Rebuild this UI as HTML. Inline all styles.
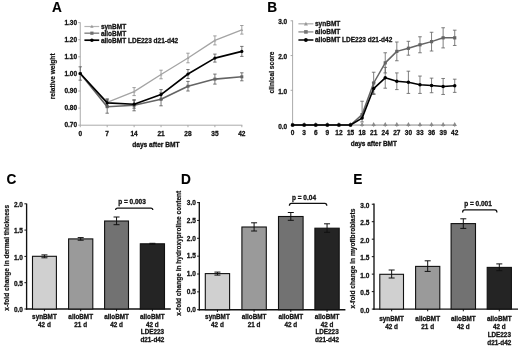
<!DOCTYPE html>
<html><head><meta charset="utf-8"><style>
html,body{margin:0;padding:0;background:#fff;}
body{width:520px;height:347px;overflow:hidden;}
svg{display:block;filter:grayscale(1) blur(0.25px);}
text{font-family:"Liberation Sans", sans-serif;font-weight:bold;fill:#111;stroke:#111;stroke-width:0.28px;}
text.yl{stroke-width:0.2px;}
text.big{stroke-width:0.15px;fill:#000;stroke:#000;}
</style></head><body>
<svg width="520" height="347" viewBox="0 0 520 347">
<rect width="520" height="347" fill="#fff"/>
<text x="0" y="0" font-size="15.0" class="big" transform="translate(52.00,11.70) scale(0.91,1)">A</text>
<text x="0" y="0" font-size="15.0" class="big" transform="translate(267.20,11.70) scale(0.91,1)">B</text>
<text x="0" y="0" font-size="15.0" class="big" transform="translate(6.60,183.50) scale(0.91,1)">C</text>
<text x="0" y="0" font-size="15.0" class="big" transform="translate(181.00,183.50) scale(0.91,1)">D</text>
<text x="0" y="0" font-size="15.0" class="big" transform="translate(353.20,183.50) scale(0.91,1)">E</text>
<line x1="80.25" y1="22.40" x2="80.25" y2="125.20" stroke="#a0a0a0" stroke-width="0.9" />
<line x1="80.25" y1="125.20" x2="242.33" y2="125.20" stroke="#a0a0a0" stroke-width="0.9" />
<line x1="78.25" y1="125.20" x2="80.25" y2="125.20" stroke="#a0a0a0" stroke-width="0.9" />
<text x="77.10" y="127.33" text-anchor="end" font-size="6.5" >0.70</text>
<line x1="78.25" y1="108.10" x2="80.25" y2="108.10" stroke="#a0a0a0" stroke-width="0.9" />
<text x="77.10" y="110.23" text-anchor="end" font-size="6.5" >0.80</text>
<line x1="78.25" y1="91.00" x2="80.25" y2="91.00" stroke="#a0a0a0" stroke-width="0.9" />
<text x="77.10" y="93.13" text-anchor="end" font-size="6.5" >0.90</text>
<line x1="78.25" y1="73.90" x2="80.25" y2="73.90" stroke="#a0a0a0" stroke-width="0.9" />
<text x="77.10" y="76.03" text-anchor="end" font-size="6.5" >1.00</text>
<line x1="78.25" y1="56.80" x2="80.25" y2="56.80" stroke="#a0a0a0" stroke-width="0.9" />
<text x="77.10" y="58.93" text-anchor="end" font-size="6.5" >1.10</text>
<line x1="78.25" y1="39.70" x2="80.25" y2="39.70" stroke="#a0a0a0" stroke-width="0.9" />
<text x="77.10" y="41.83" text-anchor="end" font-size="6.5" >1.20</text>
<line x1="78.25" y1="22.60" x2="80.25" y2="22.60" stroke="#a0a0a0" stroke-width="0.9" />
<text x="77.10" y="24.73" text-anchor="end" font-size="6.5" >1.30</text>
<line x1="80.25" y1="125.20" x2="80.25" y2="127.20" stroke="#a0a0a0" stroke-width="0.9" />
<text x="80.25" y="135.50" text-anchor="middle" font-size="6.5" >0</text>
<line x1="107.18" y1="125.20" x2="107.18" y2="127.20" stroke="#a0a0a0" stroke-width="0.9" />
<text x="107.18" y="135.50" text-anchor="middle" font-size="6.5" >7</text>
<line x1="134.11" y1="125.20" x2="134.11" y2="127.20" stroke="#a0a0a0" stroke-width="0.9" />
<text x="134.11" y="135.50" text-anchor="middle" font-size="6.5" >14</text>
<line x1="161.04" y1="125.20" x2="161.04" y2="127.20" stroke="#a0a0a0" stroke-width="0.9" />
<text x="161.04" y="135.50" text-anchor="middle" font-size="6.5" >21</text>
<line x1="187.97" y1="125.20" x2="187.97" y2="127.20" stroke="#a0a0a0" stroke-width="0.9" />
<text x="187.97" y="135.50" text-anchor="middle" font-size="6.5" >28</text>
<line x1="214.90" y1="125.20" x2="214.90" y2="127.20" stroke="#a0a0a0" stroke-width="0.9" />
<text x="214.90" y="135.50" text-anchor="middle" font-size="6.5" >35</text>
<line x1="241.83" y1="125.20" x2="241.83" y2="127.20" stroke="#a0a0a0" stroke-width="0.9" />
<text x="241.83" y="135.50" text-anchor="middle" font-size="6.5" >42</text>
<text x="155.90" y="146.70" text-anchor="middle" font-size="6.62" >days after BMT</text>
<text x="0.00" y="0.00" text-anchor="middle" font-size="6.62" class="yl" transform="translate(55.40,76.35) rotate(-90)">relative weight</text>
<line x1="107.18" y1="99.30" x2="107.18" y2="105.30" stroke="#8a8a8a" stroke-width="0.8" />
<line x1="105.48" y1="99.30" x2="108.88" y2="99.30" stroke="#8a8a8a" stroke-width="0.8" />
<line x1="105.48" y1="105.30" x2="108.88" y2="105.30" stroke="#8a8a8a" stroke-width="0.8" />
<line x1="134.11" y1="87.60" x2="134.11" y2="95.60" stroke="#8a8a8a" stroke-width="0.8" />
<line x1="132.41" y1="87.60" x2="135.81" y2="87.60" stroke="#8a8a8a" stroke-width="0.8" />
<line x1="132.41" y1="95.60" x2="135.81" y2="95.60" stroke="#8a8a8a" stroke-width="0.8" />
<line x1="161.04" y1="70.20" x2="161.04" y2="78.80" stroke="#8a8a8a" stroke-width="0.8" />
<line x1="159.34" y1="70.20" x2="162.74" y2="70.20" stroke="#8a8a8a" stroke-width="0.8" />
<line x1="159.34" y1="78.80" x2="162.74" y2="78.80" stroke="#8a8a8a" stroke-width="0.8" />
<line x1="187.97" y1="53.20" x2="187.97" y2="62.80" stroke="#8a8a8a" stroke-width="0.8" />
<line x1="186.27" y1="53.20" x2="189.67" y2="53.20" stroke="#8a8a8a" stroke-width="0.8" />
<line x1="186.27" y1="62.80" x2="189.67" y2="62.80" stroke="#8a8a8a" stroke-width="0.8" />
<line x1="214.90" y1="35.90" x2="214.90" y2="44.90" stroke="#8a8a8a" stroke-width="0.8" />
<line x1="213.20" y1="35.90" x2="216.60" y2="35.90" stroke="#8a8a8a" stroke-width="0.8" />
<line x1="213.20" y1="44.90" x2="216.60" y2="44.90" stroke="#8a8a8a" stroke-width="0.8" />
<line x1="241.83" y1="25.50" x2="241.83" y2="34.10" stroke="#8a8a8a" stroke-width="0.8" />
<line x1="240.13" y1="25.50" x2="243.53" y2="25.50" stroke="#8a8a8a" stroke-width="0.8" />
<line x1="240.13" y1="34.10" x2="243.53" y2="34.10" stroke="#8a8a8a" stroke-width="0.8" />
<path d="M80.25,73.50 L107.18,102.30 L134.11,91.60 L161.04,74.50 L187.97,58.00 L214.90,40.40 L241.83,29.80" stroke="#a4a4a4" stroke-width="1.3" fill="none" stroke-linejoin="round"/>
<path d="M80.25,72.10 L81.65,74.62 L78.85,74.62 Z" fill="#a4a4a4"/>
<path d="M107.18,100.90 L108.58,103.42 L105.78,103.42 Z" fill="#a4a4a4"/>
<path d="M134.11,90.20 L135.51,92.72 L132.71,92.72 Z" fill="#a4a4a4"/>
<path d="M161.04,73.10 L162.44,75.62 L159.64,75.62 Z" fill="#a4a4a4"/>
<path d="M187.97,56.60 L189.37,59.12 L186.57,59.12 Z" fill="#a4a4a4"/>
<path d="M214.90,39.00 L216.30,41.52 L213.50,41.52 Z" fill="#a4a4a4"/>
<path d="M241.83,28.40 L243.23,30.92 L240.43,30.92 Z" fill="#a4a4a4"/>
<line x1="107.18" y1="100.20" x2="107.18" y2="113.20" stroke="#555" stroke-width="0.8" />
<line x1="105.48" y1="100.20" x2="108.88" y2="100.20" stroke="#555" stroke-width="0.8" />
<line x1="105.48" y1="113.20" x2="108.88" y2="113.20" stroke="#555" stroke-width="0.8" />
<line x1="134.11" y1="99.80" x2="134.11" y2="110.80" stroke="#555" stroke-width="0.8" />
<line x1="132.41" y1="99.80" x2="135.81" y2="99.80" stroke="#555" stroke-width="0.8" />
<line x1="132.41" y1="110.80" x2="135.81" y2="110.80" stroke="#555" stroke-width="0.8" />
<line x1="161.04" y1="92.80" x2="161.04" y2="105.80" stroke="#555" stroke-width="0.8" />
<line x1="159.34" y1="92.80" x2="162.74" y2="92.80" stroke="#555" stroke-width="0.8" />
<line x1="159.34" y1="105.80" x2="162.74" y2="105.80" stroke="#555" stroke-width="0.8" />
<line x1="187.97" y1="81.40" x2="187.97" y2="91.00" stroke="#555" stroke-width="0.8" />
<line x1="186.27" y1="81.40" x2="189.67" y2="81.40" stroke="#555" stroke-width="0.8" />
<line x1="186.27" y1="91.00" x2="189.67" y2="91.00" stroke="#555" stroke-width="0.8" />
<line x1="214.90" y1="74.10" x2="214.90" y2="84.10" stroke="#555" stroke-width="0.8" />
<line x1="213.20" y1="74.10" x2="216.60" y2="74.10" stroke="#555" stroke-width="0.8" />
<line x1="213.20" y1="84.10" x2="216.60" y2="84.10" stroke="#555" stroke-width="0.8" />
<line x1="241.83" y1="72.80" x2="241.83" y2="80.80" stroke="#555" stroke-width="0.8" />
<line x1="240.13" y1="72.80" x2="243.53" y2="72.80" stroke="#555" stroke-width="0.8" />
<line x1="240.13" y1="80.80" x2="243.53" y2="80.80" stroke="#555" stroke-width="0.8" />
<path d="M80.25,73.50 L107.18,106.70 L134.11,105.30 L161.04,99.30 L187.97,86.20 L214.90,79.10 L241.83,76.80" stroke="#646464" stroke-width="1.6" fill="none" stroke-linejoin="round"/>
<rect x="78.75" y="72.00" width="3.0" height="3.0" fill="#646464"/>
<rect x="105.68" y="105.20" width="3.0" height="3.0" fill="#646464"/>
<rect x="132.61" y="103.80" width="3.0" height="3.0" fill="#646464"/>
<rect x="159.54" y="97.80" width="3.0" height="3.0" fill="#646464"/>
<rect x="186.47" y="84.70" width="3.0" height="3.0" fill="#646464"/>
<rect x="213.40" y="77.60" width="3.0" height="3.0" fill="#646464"/>
<rect x="240.33" y="75.30" width="3.0" height="3.0" fill="#646464"/>
<line x1="80.25" y1="66.80" x2="80.25" y2="80.20" stroke="#555" stroke-width="0.8" />
<line x1="78.55" y1="66.80" x2="81.95" y2="66.80" stroke="#555" stroke-width="0.8" />
<line x1="78.55" y1="80.20" x2="81.95" y2="80.20" stroke="#555" stroke-width="0.8" />
<line x1="107.18" y1="98.90" x2="107.18" y2="106.90" stroke="#555" stroke-width="0.8" />
<line x1="105.48" y1="98.90" x2="108.88" y2="98.90" stroke="#555" stroke-width="0.8" />
<line x1="105.48" y1="106.90" x2="108.88" y2="106.90" stroke="#555" stroke-width="0.8" />
<line x1="134.11" y1="100.20" x2="134.11" y2="108.20" stroke="#555" stroke-width="0.8" />
<line x1="132.41" y1="100.20" x2="135.81" y2="100.20" stroke="#555" stroke-width="0.8" />
<line x1="132.41" y1="108.20" x2="135.81" y2="108.20" stroke="#555" stroke-width="0.8" />
<line x1="161.04" y1="89.60" x2="161.04" y2="99.60" stroke="#555" stroke-width="0.8" />
<line x1="159.34" y1="89.60" x2="162.74" y2="89.60" stroke="#555" stroke-width="0.8" />
<line x1="159.34" y1="99.60" x2="162.74" y2="99.60" stroke="#555" stroke-width="0.8" />
<line x1="187.97" y1="69.50" x2="187.97" y2="78.50" stroke="#555" stroke-width="0.8" />
<line x1="186.27" y1="69.50" x2="189.67" y2="69.50" stroke="#555" stroke-width="0.8" />
<line x1="186.27" y1="78.50" x2="189.67" y2="78.50" stroke="#555" stroke-width="0.8" />
<line x1="214.90" y1="54.10" x2="214.90" y2="62.10" stroke="#555" stroke-width="0.8" />
<line x1="213.20" y1="54.10" x2="216.60" y2="54.10" stroke="#555" stroke-width="0.8" />
<line x1="213.20" y1="62.10" x2="216.60" y2="62.10" stroke="#555" stroke-width="0.8" />
<line x1="241.83" y1="46.40" x2="241.83" y2="56.40" stroke="#555" stroke-width="0.8" />
<line x1="240.13" y1="46.40" x2="243.53" y2="46.40" stroke="#555" stroke-width="0.8" />
<line x1="240.13" y1="56.40" x2="243.53" y2="56.40" stroke="#555" stroke-width="0.8" />
<path d="M80.25,73.50 L107.18,102.90 L134.11,104.20 L161.04,94.60 L187.97,74.00 L214.90,58.10 L241.83,51.40" stroke="#000" stroke-width="1.6" fill="none" stroke-linejoin="round"/>
<circle cx="80.25" cy="73.50" r="1.6" fill="#000"/>
<circle cx="107.18" cy="102.90" r="1.6" fill="#000"/>
<circle cx="134.11" cy="104.20" r="1.6" fill="#000"/>
<circle cx="161.04" cy="94.60" r="1.6" fill="#000"/>
<circle cx="187.97" cy="74.00" r="1.6" fill="#000"/>
<circle cx="214.90" cy="58.10" r="1.6" fill="#000"/>
<circle cx="241.83" cy="51.40" r="1.6" fill="#000"/>
<line x1="84.40" y1="26.50" x2="99.20" y2="26.50" stroke="#b4b4b4" stroke-width="1.2" />
<path d="M91.90,24.80 L93.60,27.86 L90.20,27.86 Z" fill="#999"/>
<text x="100.90" y="28.83" text-anchor="start" font-size="6.5" >synBMT</text>
<line x1="84.40" y1="33.20" x2="99.20" y2="33.20" stroke="#8a8a8a" stroke-width="1.5" />
<rect x="90.30" y="31.60" width="3.2" height="3.2" fill="#707070"/>
<text x="100.90" y="35.53" text-anchor="start" font-size="6.5" >alloBMT</text>
<line x1="84.40" y1="40.20" x2="99.20" y2="40.20" stroke="#000" stroke-width="1.7" />
<circle cx="91.90" cy="40.20" r="1.8" fill="#000"/>
<text x="100.90" y="42.53" text-anchor="start" font-size="6.5" >alloBMT LDE223 d21-d42</text>
<line x1="292.60" y1="20.40" x2="292.60" y2="125.05" stroke="#a0a0a0" stroke-width="0.9" />
<line x1="292.60" y1="125.05" x2="455.22" y2="125.05" stroke="#a0a0a0" stroke-width="0.9" />
<line x1="290.60" y1="125.05" x2="292.60" y2="125.05" stroke="#a0a0a0" stroke-width="0.9" />
<text x="287.20" y="128.58" text-anchor="end" font-size="6.5" >0.0</text>
<line x1="290.60" y1="90.30" x2="292.60" y2="90.30" stroke="#a0a0a0" stroke-width="0.9" />
<text x="287.20" y="93.83" text-anchor="end" font-size="6.5" >1.0</text>
<line x1="290.60" y1="55.55" x2="292.60" y2="55.55" stroke="#a0a0a0" stroke-width="0.9" />
<text x="287.20" y="59.08" text-anchor="end" font-size="6.5" >2.0</text>
<line x1="290.60" y1="20.80" x2="292.60" y2="20.80" stroke="#a0a0a0" stroke-width="0.9" />
<text x="287.20" y="24.33" text-anchor="end" font-size="6.5" >3.0</text>
<line x1="292.60" y1="125.05" x2="292.60" y2="127.05" stroke="#a0a0a0" stroke-width="0.9" />
<text x="292.60" y="135.20" text-anchor="middle" font-size="6.5" >0</text>
<line x1="304.18" y1="125.05" x2="304.18" y2="127.05" stroke="#a0a0a0" stroke-width="0.9" />
<text x="304.18" y="135.20" text-anchor="middle" font-size="6.5" >3</text>
<line x1="315.76" y1="125.05" x2="315.76" y2="127.05" stroke="#a0a0a0" stroke-width="0.9" />
<text x="315.76" y="135.20" text-anchor="middle" font-size="6.5" >6</text>
<line x1="327.34" y1="125.05" x2="327.34" y2="127.05" stroke="#a0a0a0" stroke-width="0.9" />
<text x="327.34" y="135.20" text-anchor="middle" font-size="6.5" >9</text>
<line x1="338.92" y1="125.05" x2="338.92" y2="127.05" stroke="#a0a0a0" stroke-width="0.9" />
<text x="338.92" y="135.20" text-anchor="middle" font-size="6.5" >12</text>
<line x1="350.50" y1="125.05" x2="350.50" y2="127.05" stroke="#a0a0a0" stroke-width="0.9" />
<text x="350.50" y="135.20" text-anchor="middle" font-size="6.5" >15</text>
<line x1="362.08" y1="125.05" x2="362.08" y2="127.05" stroke="#a0a0a0" stroke-width="0.9" />
<text x="362.08" y="135.20" text-anchor="middle" font-size="6.5" >18</text>
<line x1="373.66" y1="125.05" x2="373.66" y2="127.05" stroke="#a0a0a0" stroke-width="0.9" />
<text x="373.66" y="135.20" text-anchor="middle" font-size="6.5" >21</text>
<line x1="385.24" y1="125.05" x2="385.24" y2="127.05" stroke="#a0a0a0" stroke-width="0.9" />
<text x="385.24" y="135.20" text-anchor="middle" font-size="6.5" >24</text>
<line x1="396.82" y1="125.05" x2="396.82" y2="127.05" stroke="#a0a0a0" stroke-width="0.9" />
<text x="396.82" y="135.20" text-anchor="middle" font-size="6.5" >27</text>
<line x1="408.40" y1="125.05" x2="408.40" y2="127.05" stroke="#a0a0a0" stroke-width="0.9" />
<text x="408.40" y="135.20" text-anchor="middle" font-size="6.5" >30</text>
<line x1="419.98" y1="125.05" x2="419.98" y2="127.05" stroke="#a0a0a0" stroke-width="0.9" />
<text x="419.98" y="135.20" text-anchor="middle" font-size="6.5" >33</text>
<line x1="431.56" y1="125.05" x2="431.56" y2="127.05" stroke="#a0a0a0" stroke-width="0.9" />
<text x="431.56" y="135.20" text-anchor="middle" font-size="6.5" >36</text>
<line x1="443.14" y1="125.05" x2="443.14" y2="127.05" stroke="#a0a0a0" stroke-width="0.9" />
<text x="443.14" y="135.20" text-anchor="middle" font-size="6.5" >39</text>
<line x1="454.72" y1="125.05" x2="454.72" y2="127.05" stroke="#a0a0a0" stroke-width="0.9" />
<text x="454.72" y="135.20" text-anchor="middle" font-size="6.5" >42</text>
<text x="373.80" y="146.40" text-anchor="middle" font-size="6.45" >days after BMT</text>
<text x="0.00" y="0.00" text-anchor="middle" font-size="6.62" class="yl" transform="translate(274.10,72.50) rotate(-90)">clinical score</text>
<path d="M292.60,125.05 L304.18,125.05 L315.76,125.05 L327.34,125.05 L338.92,125.05 L350.50,125.05 L362.08,125.05 L373.66,125.05 L385.24,125.05 L396.82,125.05 L408.40,125.05 L419.98,125.05 L431.56,125.05 L443.14,125.05 L454.72,125.05" stroke="#b8b8b8" stroke-width="1.3" fill="none" />
<path d="M292.60,121.95 L294.80,125.91 L290.40,125.91 Z" fill="#8a8a8a"/>
<path d="M304.18,121.95 L306.38,125.91 L301.98,125.91 Z" fill="#8a8a8a"/>
<path d="M315.76,121.95 L317.96,125.91 L313.56,125.91 Z" fill="#8a8a8a"/>
<path d="M327.34,121.95 L329.54,125.91 L325.14,125.91 Z" fill="#8a8a8a"/>
<path d="M338.92,121.95 L341.12,125.91 L336.72,125.91 Z" fill="#8a8a8a"/>
<path d="M350.50,121.95 L352.70,125.91 L348.30,125.91 Z" fill="#8a8a8a"/>
<path d="M362.08,121.95 L364.28,125.91 L359.88,125.91 Z" fill="#8a8a8a"/>
<path d="M373.66,121.95 L375.86,125.91 L371.46,125.91 Z" fill="#8a8a8a"/>
<path d="M385.24,121.95 L387.44,125.91 L383.04,125.91 Z" fill="#8a8a8a"/>
<path d="M396.82,121.95 L399.02,125.91 L394.62,125.91 Z" fill="#8a8a8a"/>
<path d="M408.40,121.95 L410.60,125.91 L406.20,125.91 Z" fill="#8a8a8a"/>
<path d="M419.98,121.95 L422.18,125.91 L417.78,125.91 Z" fill="#8a8a8a"/>
<path d="M431.56,121.95 L433.76,125.91 L429.36,125.91 Z" fill="#8a8a8a"/>
<path d="M443.14,121.95 L445.34,125.91 L440.94,125.91 Z" fill="#8a8a8a"/>
<path d="M454.72,121.95 L456.92,125.91 L452.52,125.91 Z" fill="#8a8a8a"/>
<line x1="362.08" y1="101.22" x2="362.08" y2="114.62" stroke="#606060" stroke-width="0.8" />
<line x1="360.28" y1="101.22" x2="363.88" y2="101.22" stroke="#606060" stroke-width="0.8" />
<line x1="373.66" y1="72.23" x2="373.66" y2="93.77" stroke="#606060" stroke-width="0.8" />
<line x1="371.86" y1="72.23" x2="375.46" y2="72.23" stroke="#606060" stroke-width="0.8" />
<line x1="371.86" y1="93.77" x2="375.46" y2="93.77" stroke="#606060" stroke-width="0.8" />
<line x1="385.24" y1="52.77" x2="385.24" y2="72.92" stroke="#606060" stroke-width="0.8" />
<line x1="383.44" y1="52.77" x2="387.04" y2="52.77" stroke="#606060" stroke-width="0.8" />
<line x1="383.44" y1="72.92" x2="387.04" y2="72.92" stroke="#606060" stroke-width="0.8" />
<line x1="396.82" y1="42.00" x2="396.82" y2="60.76" stroke="#606060" stroke-width="0.8" />
<line x1="395.02" y1="42.00" x2="398.62" y2="42.00" stroke="#606060" stroke-width="0.8" />
<line x1="395.02" y1="60.76" x2="398.62" y2="60.76" stroke="#606060" stroke-width="0.8" />
<line x1="408.40" y1="41.30" x2="408.40" y2="55.20" stroke="#606060" stroke-width="0.8" />
<line x1="406.60" y1="41.30" x2="410.20" y2="41.30" stroke="#606060" stroke-width="0.8" />
<line x1="406.60" y1="55.20" x2="410.20" y2="55.20" stroke="#606060" stroke-width="0.8" />
<line x1="419.98" y1="36.78" x2="419.98" y2="52.77" stroke="#606060" stroke-width="0.8" />
<line x1="418.18" y1="36.78" x2="421.78" y2="36.78" stroke="#606060" stroke-width="0.8" />
<line x1="418.18" y1="52.77" x2="421.78" y2="52.77" stroke="#606060" stroke-width="0.8" />
<line x1="431.56" y1="32.27" x2="431.56" y2="51.03" stroke="#606060" stroke-width="0.8" />
<line x1="429.76" y1="32.27" x2="433.36" y2="32.27" stroke="#606060" stroke-width="0.8" />
<line x1="429.76" y1="51.03" x2="433.36" y2="51.03" stroke="#606060" stroke-width="0.8" />
<line x1="443.14" y1="27.75" x2="443.14" y2="47.91" stroke="#606060" stroke-width="0.8" />
<line x1="441.34" y1="27.75" x2="444.94" y2="27.75" stroke="#606060" stroke-width="0.8" />
<line x1="441.34" y1="47.91" x2="444.94" y2="47.91" stroke="#606060" stroke-width="0.8" />
<line x1="454.72" y1="30.18" x2="454.72" y2="45.47" stroke="#606060" stroke-width="0.8" />
<line x1="452.92" y1="30.18" x2="456.52" y2="30.18" stroke="#606060" stroke-width="0.8" />
<line x1="452.92" y1="45.47" x2="456.52" y2="45.47" stroke="#606060" stroke-width="0.8" />
<path d="M292.60,125.05 L304.18,125.05 L315.76,125.05 L327.34,125.05 L338.92,125.05 L350.50,125.05 L362.08,114.62 L373.66,83.00 L385.24,62.85 L396.82,51.38 L408.40,48.25 L419.98,44.78 L431.56,41.65 L443.14,37.83 L454.72,37.83" stroke="#646464" stroke-width="1.5" fill="none" stroke-linejoin="round"/>
<rect x="291.00" y="123.45" width="3.2" height="3.2" fill="#646464"/>
<rect x="302.58" y="123.45" width="3.2" height="3.2" fill="#646464"/>
<rect x="314.16" y="123.45" width="3.2" height="3.2" fill="#646464"/>
<rect x="325.74" y="123.45" width="3.2" height="3.2" fill="#646464"/>
<rect x="337.32" y="123.45" width="3.2" height="3.2" fill="#646464"/>
<rect x="348.90" y="123.45" width="3.2" height="3.2" fill="#646464"/>
<rect x="360.48" y="113.03" width="3.2" height="3.2" fill="#646464"/>
<rect x="372.06" y="81.40" width="3.2" height="3.2" fill="#646464"/>
<rect x="383.64" y="61.25" width="3.2" height="3.2" fill="#646464"/>
<rect x="395.22" y="49.78" width="3.2" height="3.2" fill="#646464"/>
<rect x="406.80" y="46.65" width="3.2" height="3.2" fill="#646464"/>
<rect x="418.38" y="43.18" width="3.2" height="3.2" fill="#646464"/>
<rect x="429.96" y="40.05" width="3.2" height="3.2" fill="#646464"/>
<rect x="441.54" y="36.23" width="3.2" height="3.2" fill="#646464"/>
<rect x="453.12" y="36.23" width="3.2" height="3.2" fill="#646464"/>
<line x1="362.08" y1="118.10" x2="362.08" y2="121.90" stroke="#606060" stroke-width="0.8" />
<line x1="360.28" y1="121.90" x2="363.88" y2="121.90" stroke="#606060" stroke-width="0.8" />
<line x1="373.66" y1="82.66" x2="373.66" y2="94.47" stroke="#606060" stroke-width="0.8" />
<line x1="371.86" y1="82.66" x2="375.46" y2="82.66" stroke="#606060" stroke-width="0.8" />
<line x1="371.86" y1="94.47" x2="375.46" y2="94.47" stroke="#606060" stroke-width="0.8" />
<line x1="385.24" y1="67.36" x2="385.24" y2="88.21" stroke="#606060" stroke-width="0.8" />
<line x1="383.44" y1="67.36" x2="387.04" y2="67.36" stroke="#606060" stroke-width="0.8" />
<line x1="383.44" y1="88.21" x2="387.04" y2="88.21" stroke="#606060" stroke-width="0.8" />
<line x1="396.82" y1="72.92" x2="396.82" y2="89.60" stroke="#606060" stroke-width="0.8" />
<line x1="395.02" y1="72.92" x2="398.62" y2="72.92" stroke="#606060" stroke-width="0.8" />
<line x1="395.02" y1="89.60" x2="398.62" y2="89.60" stroke="#606060" stroke-width="0.8" />
<line x1="408.40" y1="71.19" x2="408.40" y2="93.43" stroke="#606060" stroke-width="0.8" />
<line x1="406.60" y1="71.19" x2="410.20" y2="71.19" stroke="#606060" stroke-width="0.8" />
<line x1="406.60" y1="93.43" x2="410.20" y2="93.43" stroke="#606060" stroke-width="0.8" />
<line x1="419.98" y1="76.05" x2="419.98" y2="93.43" stroke="#606060" stroke-width="0.8" />
<line x1="418.18" y1="76.05" x2="421.78" y2="76.05" stroke="#606060" stroke-width="0.8" />
<line x1="418.18" y1="93.43" x2="421.78" y2="93.43" stroke="#606060" stroke-width="0.8" />
<line x1="431.56" y1="78.14" x2="431.56" y2="92.73" stroke="#606060" stroke-width="0.8" />
<line x1="429.76" y1="78.14" x2="433.36" y2="78.14" stroke="#606060" stroke-width="0.8" />
<line x1="429.76" y1="92.73" x2="433.36" y2="92.73" stroke="#606060" stroke-width="0.8" />
<line x1="443.14" y1="78.48" x2="443.14" y2="94.47" stroke="#606060" stroke-width="0.8" />
<line x1="441.34" y1="78.48" x2="444.94" y2="78.48" stroke="#606060" stroke-width="0.8" />
<line x1="441.34" y1="94.47" x2="444.94" y2="94.47" stroke="#606060" stroke-width="0.8" />
<line x1="454.72" y1="79.18" x2="454.72" y2="92.39" stroke="#606060" stroke-width="0.8" />
<line x1="452.92" y1="79.18" x2="456.52" y2="79.18" stroke="#606060" stroke-width="0.8" />
<line x1="452.92" y1="92.39" x2="456.52" y2="92.39" stroke="#606060" stroke-width="0.8" />
<path d="M292.60,125.05 L304.18,125.05 L315.76,125.05 L327.34,125.05 L338.92,125.05 L350.50,125.05 L362.08,118.10 L373.66,88.56 L385.24,77.79 L396.82,81.26 L408.40,82.31 L419.98,84.74 L431.56,85.44 L443.14,86.48 L454.72,85.78" stroke="#000" stroke-width="1.6" fill="none" stroke-linejoin="round"/>
<circle cx="292.60" cy="125.05" r="1.75" fill="#000"/>
<circle cx="304.18" cy="125.05" r="1.75" fill="#000"/>
<circle cx="315.76" cy="125.05" r="1.75" fill="#000"/>
<circle cx="327.34" cy="125.05" r="1.75" fill="#000"/>
<circle cx="338.92" cy="125.05" r="1.75" fill="#000"/>
<circle cx="350.50" cy="125.05" r="1.75" fill="#000"/>
<circle cx="362.08" cy="118.10" r="1.75" fill="#000"/>
<circle cx="373.66" cy="88.56" r="1.75" fill="#000"/>
<circle cx="385.24" cy="77.79" r="1.75" fill="#000"/>
<circle cx="396.82" cy="81.26" r="1.75" fill="#000"/>
<circle cx="408.40" cy="82.31" r="1.75" fill="#000"/>
<circle cx="419.98" cy="84.74" r="1.75" fill="#000"/>
<circle cx="431.56" cy="85.44" r="1.75" fill="#000"/>
<circle cx="443.14" cy="86.48" r="1.75" fill="#000"/>
<circle cx="454.72" cy="85.78" r="1.75" fill="#000"/>
<line x1="298.40" y1="23.80" x2="313.40" y2="23.80" stroke="#b0b0b0" stroke-width="1.3" />
<path d="M305.90,21.80 L307.90,25.40 L303.90,25.40 Z" fill="#999"/>
<text x="315.00" y="26.13" text-anchor="start" font-size="6.5" >synBMT</text>
<line x1="298.40" y1="31.90" x2="313.40" y2="31.90" stroke="#9a9a9a" stroke-width="1.5" />
<rect x="304.10" y="30.10" width="3.6" height="3.6" fill="#767676"/>
<text x="315.00" y="34.23" text-anchor="start" font-size="6.5" >alloBMT</text>
<line x1="298.40" y1="40.00" x2="313.40" y2="40.00" stroke="#000" stroke-width="1.5" />
<circle cx="305.90" cy="40.00" r="1.9" fill="#000"/>
<text x="315.00" y="42.33" text-anchor="start" font-size="6.5" >alloBMT LDE223 d21-d42</text>
<line x1="26.60" y1="203.60" x2="26.60" y2="309.70" stroke="#111" stroke-width="1.35" />
<line x1="26.00" y1="309.00" x2="170.80" y2="309.00" stroke="#111" stroke-width="1.45" />
<line x1="24.40" y1="309.00" x2="26.60" y2="309.00" stroke="#111" stroke-width="1.0" />
<text x="23.00" y="312.23" text-anchor="end" font-size="6.5" >0.0</text>
<line x1="24.40" y1="282.70" x2="26.60" y2="282.70" stroke="#111" stroke-width="1.0" />
<text x="23.00" y="285.93" text-anchor="end" font-size="6.5" >0.5</text>
<line x1="24.40" y1="256.40" x2="26.60" y2="256.40" stroke="#111" stroke-width="1.0" />
<text x="23.00" y="259.63" text-anchor="end" font-size="6.5" >1.0</text>
<line x1="24.40" y1="230.10" x2="26.60" y2="230.10" stroke="#111" stroke-width="1.0" />
<text x="23.00" y="233.33" text-anchor="end" font-size="6.5" >1.5</text>
<line x1="24.40" y1="203.80" x2="26.60" y2="203.80" stroke="#111" stroke-width="1.0" />
<text x="23.00" y="207.03" text-anchor="end" font-size="6.5" >2.0</text>
<rect x="32.50" y="256.30" width="23.90" height="52.70" fill="#d0d0d0" stroke="#111" stroke-width="1.1"/>
<line x1="44.45" y1="254.90" x2="44.45" y2="257.80" stroke="#111" stroke-width="1.0" />
<line x1="41.45" y1="254.90" x2="47.45" y2="254.90" stroke="#111" stroke-width="1.0" />
<line x1="41.45" y1="257.80" x2="47.45" y2="257.80" stroke="#111" stroke-width="1.0" />
<line x1="44.45" y1="309.00" x2="44.45" y2="311.20" stroke="#111" stroke-width="1.0" />
<rect x="68.60" y="238.90" width="24.20" height="70.10" fill="#9a9a9a" stroke="#111" stroke-width="1.1"/>
<line x1="80.70" y1="237.60" x2="80.70" y2="240.20" stroke="#111" stroke-width="1.0" />
<line x1="77.70" y1="237.60" x2="83.70" y2="237.60" stroke="#111" stroke-width="1.0" />
<line x1="77.70" y1="240.20" x2="83.70" y2="240.20" stroke="#111" stroke-width="1.0" />
<line x1="80.70" y1="309.00" x2="80.70" y2="311.20" stroke="#111" stroke-width="1.0" />
<rect x="104.60" y="221.00" width="23.90" height="88.00" fill="#727272" stroke="#111" stroke-width="1.1"/>
<line x1="116.55" y1="217.00" x2="116.55" y2="224.70" stroke="#111" stroke-width="1.0" />
<line x1="113.55" y1="217.00" x2="119.55" y2="217.00" stroke="#111" stroke-width="1.0" />
<line x1="113.55" y1="224.70" x2="119.55" y2="224.70" stroke="#111" stroke-width="1.0" />
<line x1="116.55" y1="309.00" x2="116.55" y2="311.20" stroke="#111" stroke-width="1.0" />
<rect x="140.30" y="243.80" width="24.20" height="65.20" fill="#242424" stroke="#111" stroke-width="1.1"/>
<line x1="152.40" y1="243.30" x2="152.40" y2="244.30" stroke="#111" stroke-width="1.0" />
<line x1="149.40" y1="243.30" x2="155.40" y2="243.30" stroke="#111" stroke-width="1.0" />
<line x1="149.40" y1="244.30" x2="155.40" y2="244.30" stroke="#111" stroke-width="1.0" />
<line x1="152.40" y1="309.00" x2="152.40" y2="311.20" stroke="#111" stroke-width="1.0" />
<path d="M115.60,210.10 Q115.60,208.10 117.60,208.10 L150.80,208.10 Q152.80,208.10 152.80,210.10" stroke="#111" stroke-width="1.25" fill="none" />
<text x="132.00" y="204.00" text-anchor="middle" font-size="6.5" >p = 0.003</text>
<text x="0.00" y="0.00" text-anchor="middle" font-size="6.57" class="yl" transform="translate(8.80,257.80) rotate(-90)">x-fold change in dermal thickness</text>
<text x="44.45" y="318.90" text-anchor="middle" font-size="6.35" >synBMT</text>
<text x="44.45" y="326.68" text-anchor="middle" font-size="6.35" >42 d</text>
<text x="80.70" y="318.90" text-anchor="middle" font-size="6.35" >alloBMT</text>
<text x="80.70" y="326.68" text-anchor="middle" font-size="6.35" >21 d</text>
<text x="116.55" y="318.90" text-anchor="middle" font-size="6.35" >alloBMT</text>
<text x="116.55" y="326.68" text-anchor="middle" font-size="6.35" >42 d</text>
<text x="152.40" y="318.90" text-anchor="middle" font-size="6.35" >alloBMT</text>
<text x="152.40" y="326.68" text-anchor="middle" font-size="6.35" >42 d</text>
<text x="152.40" y="334.46" text-anchor="middle" font-size="6.35" >LDE223</text>
<text x="152.40" y="342.24" text-anchor="middle" font-size="6.35" >d21-d42</text>
<line x1="199.30" y1="202.00" x2="199.30" y2="310.40" stroke="#111" stroke-width="1.35" />
<line x1="198.70" y1="309.70" x2="345.40" y2="309.70" stroke="#111" stroke-width="1.45" />
<line x1="197.10" y1="309.70" x2="199.30" y2="309.70" stroke="#111" stroke-width="1.0" />
<text x="195.90" y="312.03" text-anchor="end" font-size="6.5" >0.0</text>
<line x1="197.10" y1="291.85" x2="199.30" y2="291.85" stroke="#111" stroke-width="1.0" />
<text x="195.90" y="294.18" text-anchor="end" font-size="6.5" >0.5</text>
<line x1="197.10" y1="274.00" x2="199.30" y2="274.00" stroke="#111" stroke-width="1.0" />
<text x="195.90" y="276.33" text-anchor="end" font-size="6.5" >1.0</text>
<line x1="197.10" y1="256.15" x2="199.30" y2="256.15" stroke="#111" stroke-width="1.0" />
<text x="195.90" y="258.48" text-anchor="end" font-size="6.5" >1.5</text>
<line x1="197.10" y1="238.30" x2="199.30" y2="238.30" stroke="#111" stroke-width="1.0" />
<text x="195.90" y="240.63" text-anchor="end" font-size="6.5" >2.0</text>
<line x1="197.10" y1="220.45" x2="199.30" y2="220.45" stroke="#111" stroke-width="1.0" />
<text x="195.90" y="222.78" text-anchor="end" font-size="6.5" >2.5</text>
<line x1="197.10" y1="202.60" x2="199.30" y2="202.60" stroke="#111" stroke-width="1.0" />
<text x="195.90" y="204.93" text-anchor="end" font-size="6.5" >3.0</text>
<rect x="205.30" y="273.60" width="24.30" height="36.10" fill="#d0d0d0" stroke="#111" stroke-width="1.1"/>
<line x1="217.45" y1="272.10" x2="217.45" y2="275.10" stroke="#111" stroke-width="1.0" />
<line x1="214.45" y1="272.10" x2="220.45" y2="272.10" stroke="#111" stroke-width="1.0" />
<line x1="214.45" y1="275.10" x2="220.45" y2="275.10" stroke="#111" stroke-width="1.0" />
<line x1="217.45" y1="309.70" x2="217.45" y2="311.90" stroke="#111" stroke-width="1.0" />
<rect x="241.90" y="227.00" width="24.40" height="82.70" fill="#9a9a9a" stroke="#111" stroke-width="1.1"/>
<line x1="254.10" y1="222.80" x2="254.10" y2="231.00" stroke="#111" stroke-width="1.0" />
<line x1="251.10" y1="222.80" x2="257.10" y2="222.80" stroke="#111" stroke-width="1.0" />
<line x1="251.10" y1="231.00" x2="257.10" y2="231.00" stroke="#111" stroke-width="1.0" />
<line x1="254.10" y1="309.70" x2="254.10" y2="311.90" stroke="#111" stroke-width="1.0" />
<rect x="278.50" y="216.50" width="24.60" height="93.20" fill="#727272" stroke="#111" stroke-width="1.1"/>
<line x1="290.80" y1="212.50" x2="290.80" y2="220.30" stroke="#111" stroke-width="1.0" />
<line x1="287.80" y1="212.50" x2="293.80" y2="212.50" stroke="#111" stroke-width="1.0" />
<line x1="287.80" y1="220.30" x2="293.80" y2="220.30" stroke="#111" stroke-width="1.0" />
<line x1="290.80" y1="309.70" x2="290.80" y2="311.90" stroke="#111" stroke-width="1.0" />
<rect x="314.90" y="228.20" width="24.30" height="81.50" fill="#242424" stroke="#111" stroke-width="1.1"/>
<line x1="327.05" y1="223.80" x2="327.05" y2="232.30" stroke="#111" stroke-width="1.0" />
<line x1="324.05" y1="223.80" x2="330.05" y2="223.80" stroke="#111" stroke-width="1.0" />
<line x1="324.05" y1="232.30" x2="330.05" y2="232.30" stroke="#111" stroke-width="1.0" />
<line x1="327.05" y1="309.70" x2="327.05" y2="311.90" stroke="#111" stroke-width="1.0" />
<path d="M289.40,205.70 Q289.40,203.40 291.40,203.40 L324.80,203.40 Q326.80,203.40 326.80,205.70" stroke="#111" stroke-width="1.25" fill="none" />
<text x="304.00" y="199.80" text-anchor="middle" font-size="6.5" >p = 0.04</text>
<text x="0.00" y="0.00" text-anchor="middle" font-size="6.57" class="yl" transform="translate(180.90,253.30) rotate(-90)">x-fold change in hydroxyproline content</text>
<text x="217.45" y="318.90" text-anchor="middle" font-size="6.35" >synBMT</text>
<text x="217.45" y="326.68" text-anchor="middle" font-size="6.35" >42 d</text>
<text x="254.10" y="318.90" text-anchor="middle" font-size="6.35" >alloBMT</text>
<text x="254.10" y="326.68" text-anchor="middle" font-size="6.35" >21 d</text>
<text x="290.80" y="318.90" text-anchor="middle" font-size="6.35" >alloBMT</text>
<text x="290.80" y="326.68" text-anchor="middle" font-size="6.35" >42 d</text>
<text x="327.05" y="318.90" text-anchor="middle" font-size="6.35" >alloBMT</text>
<text x="327.05" y="326.68" text-anchor="middle" font-size="6.35" >42 d</text>
<text x="327.05" y="334.46" text-anchor="middle" font-size="6.35" >LDE223</text>
<text x="327.05" y="342.24" text-anchor="middle" font-size="6.35" >d21-d42</text>
<line x1="374.00" y1="203.40" x2="374.00" y2="309.80" stroke="#111" stroke-width="1.35" />
<line x1="373.40" y1="309.10" x2="518.00" y2="309.10" stroke="#111" stroke-width="1.45" />
<line x1="371.80" y1="309.10" x2="374.00" y2="309.10" stroke="#111" stroke-width="1.0" />
<text x="369.40" y="312.83" text-anchor="end" font-size="6.5" >0.0</text>
<line x1="371.80" y1="291.62" x2="374.00" y2="291.62" stroke="#111" stroke-width="1.0" />
<text x="369.40" y="295.35" text-anchor="end" font-size="6.5" >0.5</text>
<line x1="371.80" y1="274.14" x2="374.00" y2="274.14" stroke="#111" stroke-width="1.0" />
<text x="369.40" y="277.87" text-anchor="end" font-size="6.5" >1.0</text>
<line x1="371.80" y1="256.66" x2="374.00" y2="256.66" stroke="#111" stroke-width="1.0" />
<text x="369.40" y="260.39" text-anchor="end" font-size="6.5" >1.5</text>
<line x1="371.80" y1="239.18" x2="374.00" y2="239.18" stroke="#111" stroke-width="1.0" />
<text x="369.40" y="242.91" text-anchor="end" font-size="6.5" >2.0</text>
<line x1="371.80" y1="221.70" x2="374.00" y2="221.70" stroke="#111" stroke-width="1.0" />
<text x="369.40" y="225.43" text-anchor="end" font-size="6.5" >2.5</text>
<line x1="371.80" y1="204.22" x2="374.00" y2="204.22" stroke="#111" stroke-width="1.0" />
<text x="369.40" y="207.95" text-anchor="end" font-size="6.5" >3.0</text>
<rect x="379.80" y="274.30" width="23.70" height="34.80" fill="#d0d0d0" stroke="#111" stroke-width="1.1"/>
<line x1="391.65" y1="270.00" x2="391.65" y2="278.00" stroke="#111" stroke-width="1.0" />
<line x1="388.65" y1="270.00" x2="394.65" y2="270.00" stroke="#111" stroke-width="1.0" />
<line x1="388.65" y1="278.00" x2="394.65" y2="278.00" stroke="#111" stroke-width="1.0" />
<line x1="391.65" y1="309.10" x2="391.65" y2="311.30" stroke="#111" stroke-width="1.0" />
<rect x="415.60" y="266.40" width="24.20" height="42.70" fill="#9a9a9a" stroke="#111" stroke-width="1.1"/>
<line x1="427.70" y1="260.80" x2="427.70" y2="271.40" stroke="#111" stroke-width="1.0" />
<line x1="424.70" y1="260.80" x2="430.70" y2="260.80" stroke="#111" stroke-width="1.0" />
<line x1="424.70" y1="271.40" x2="430.70" y2="271.40" stroke="#111" stroke-width="1.0" />
<line x1="427.70" y1="309.10" x2="427.70" y2="311.30" stroke="#111" stroke-width="1.0" />
<rect x="451.10" y="223.60" width="24.40" height="85.50" fill="#727272" stroke="#111" stroke-width="1.1"/>
<line x1="463.30" y1="218.80" x2="463.30" y2="228.40" stroke="#111" stroke-width="1.0" />
<line x1="460.30" y1="218.80" x2="466.30" y2="218.80" stroke="#111" stroke-width="1.0" />
<line x1="460.30" y1="228.40" x2="466.30" y2="228.40" stroke="#111" stroke-width="1.0" />
<line x1="463.30" y1="309.10" x2="463.30" y2="311.30" stroke="#111" stroke-width="1.0" />
<rect x="487.20" y="267.40" width="24.20" height="41.70" fill="#242424" stroke="#111" stroke-width="1.1"/>
<line x1="499.30" y1="263.90" x2="499.30" y2="270.70" stroke="#111" stroke-width="1.0" />
<line x1="496.30" y1="263.90" x2="502.30" y2="263.90" stroke="#111" stroke-width="1.0" />
<line x1="496.30" y1="270.70" x2="502.30" y2="270.70" stroke="#111" stroke-width="1.0" />
<line x1="499.30" y1="309.10" x2="499.30" y2="311.30" stroke="#111" stroke-width="1.0" />
<path d="M462.60,212.40 Q462.60,209.90 464.60,209.90 L494.90,209.90 Q496.90,209.90 496.90,212.40" stroke="#111" stroke-width="1.25" fill="none" />
<text x="478.00" y="205.80" text-anchor="middle" font-size="6.5" >p = 0.001</text>
<text x="0.00" y="0.00" text-anchor="middle" font-size="6.62" class="yl" transform="translate(354.70,258.60) rotate(-90)">x-fold change in myofibroblasts</text>
<text x="391.65" y="320.90" text-anchor="middle" font-size="6.35" >synBMT</text>
<text x="391.65" y="328.83" text-anchor="middle" font-size="6.35" >42 d</text>
<text x="427.70" y="320.90" text-anchor="middle" font-size="6.35" >alloBMT</text>
<text x="427.70" y="328.83" text-anchor="middle" font-size="6.35" >21 d</text>
<text x="463.30" y="320.90" text-anchor="middle" font-size="6.35" >alloBMT</text>
<text x="463.30" y="328.83" text-anchor="middle" font-size="6.35" >42 d</text>
<text x="499.30" y="320.90" text-anchor="middle" font-size="6.35" >alloBMT</text>
<text x="499.30" y="328.83" text-anchor="middle" font-size="6.35" >42 d</text>
<text x="499.30" y="336.76" text-anchor="middle" font-size="6.35" >LDE223</text>
<text x="499.30" y="344.69" text-anchor="middle" font-size="6.35" >d21-d42</text>
</svg>
</body></html>
